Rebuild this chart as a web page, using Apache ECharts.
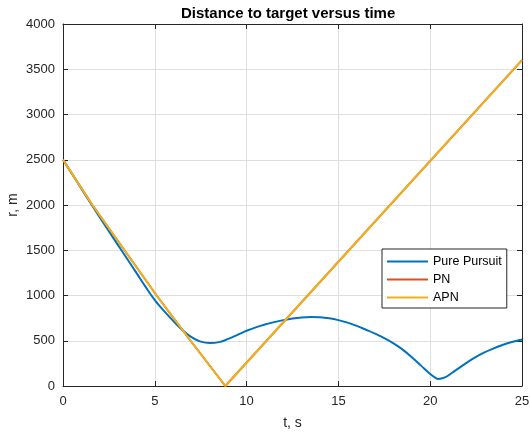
<!DOCTYPE html>
<html>
<head>
<meta charset="utf-8">
<script src="https://cdn.jsdelivr.net/npm/echarts@6/dist/echarts.min.js"></script>
<style>
  html, body { margin: 0; padding: 0; background: #fff; }
  #chart { width: 530px; height: 432px; }
</style>
</head>
<body>
<div id="chart"></div>
<script>
// values
const seriesNames = ["Pure Pursuit", "PN", "APN"];

const ppTime = [0, 0.8, 1.6, 2.4, 3.2, 4.0, 4.5, 5.0, 5.5, 6.0, 6.5, 7.0, 7.5, 8.0, 8.5, 9.0, 9.5, 10, 10.5, 11, 11.5, 12, 12.5, 13, 13.5, 14, 14.5, 15, 15.5, 16, 16.5, 17, 17.5, 18, 18.5, 19, 19.5, 20, 20.25, 20.44, 20.65, 20.9, 21.4, 21.9, 22.4, 22.9, 23.4, 23.9, 24.4, 25];
const ppRange = [2500, 2245, 1990, 1740, 1495, 1250, 1095, 950, 830, 720, 620, 540, 490, 475, 485, 520, 565, 610, 648, 680, 706, 728, 746, 758, 763, 760, 748, 728, 700, 664, 622, 578, 528, 470, 402, 318, 225, 132, 95, 78, 85, 105, 175, 245, 310, 365, 410, 450, 483, 513];

const pnTime = [0, 1.6, 3.35, 5.1, 6.95, 8.84, 25];
const pnRange = [2500, 2000, 1500, 1000, 500, 0, 3600];

const apnTime = [0, 1.6, 3.35, 5.1, 6.95, 8.84, 25];
const apnRange = [2500, 2000, 1500, 1000, 500, 0, 3600];

const colors = ["#0072BD", "#D95319", "#EDB120"];

const pairs = (xs, ys) => xs.map((x, i) => [x, ys[i]]);

const chart = echarts.init(document.getElementById("chart"));

const axisColor = "#262626";
const gridColor = "#dfdfdf";
const font = "Liberation Sans, Arial, sans-serif";
// plain line used as the legend sample
const lineIcon = "path://M0,0 L41,0 L41,2 L0,2 Z";

const option = {
  animation: false,
  title: {
    text: "Distance to target versus time",
    left: 176,
    top: 1,
    textStyle: {
      fontFamily: font,
      fontSize: 15,
      fontWeight: "bold",
      color: "#000",
    },
  },
  legend: {
    data: seriesNames.map((n) => ({ name: n, icon: lineIcon })),
    orient: "vertical",
    left: 382,
    top: 249,
    itemWidth: 41,
    itemHeight: 12,
    itemGap: 5,
    symbolKeepAspect: true,
    padding: [6, 5, 4, 5],
    backgroundColor: "#fff",
    borderColor: axisColor,
    borderWidth: 1,
    borderRadius: 0,
    textStyle: {
      fontFamily: font,
      fontSize: 12.5,
      color: "#000",
    },
  },
  grid: {
    left: 63,
    right: 8,
    top: 24,
    bottom: 46,
    outerBoundsMode: "none",
    containLabel: false,
  },
  xAxis: [
    {
      type: "value",
      min: 0,
      max: 25,
      interval: 5,
      name: "t, s",
      nameLocation: "middle",
      nameGap: 30,
      nameTextStyle: { fontFamily: font, fontSize: 14, color: axisColor },
      axisLine: { show: true, onZero: false, lineStyle: { color: axisColor, width: 1 } },
      axisTick: { show: true, inside: true, length: 5, lineStyle: { color: axisColor } },
      axisLabel: { fontFamily: font, fontSize: 13, color: axisColor, margin: 9 },
      splitLine: { show: true, lineStyle: { color: gridColor, width: 1 } },
    },
    {
      type: "value",
      position: "top",
      min: 0,
      max: 25,
      interval: 5,
      axisLine: { show: true, onZero: false, lineStyle: { color: axisColor, width: 1 } },
      axisTick: { show: true, inside: true, length: 5, lineStyle: { color: axisColor } },
      axisLabel: { show: false },
      splitLine: { show: false },
    },
  ],
  yAxis: [
    {
      type: "value",
      min: 0,
      max: 4000,
      interval: 500,
      name: "r, m",
      nameLocation: "middle",
      nameGap: 43,
      nameMoveOverlap: false,
      nameTextStyle: { fontFamily: font, fontSize: 14, color: axisColor },
      axisLine: { show: true, onZero: false, lineStyle: { color: axisColor, width: 1 } },
      axisTick: { show: true, inside: true, length: 5, lineStyle: { color: axisColor } },
      axisLabel: {
        fontFamily: font,
        fontSize: 13,
        color: axisColor,
        margin: 8,
        formatter: (v) => String(v),
      },
      splitLine: { show: true, lineStyle: { color: gridColor, width: 1 } },
    },
    {
      type: "value",
      position: "right",
      min: 0,
      max: 4000,
      interval: 500,
      axisLine: { show: true, onZero: false, lineStyle: { color: axisColor, width: 1 } },
      axisTick: { show: true, inside: true, length: 5, lineStyle: { color: axisColor } },
      axisLabel: { show: false },
      splitLine: { show: false },
    },
  ],
  series: [
    {
      name: seriesNames[0],
      type: "line",
      data: pairs(ppTime, ppRange),
      smooth: 0.4,
      symbol: "none",
      color: colors[0],
      lineStyle: { width: 2, color: colors[0] },
    },
    {
      name: seriesNames[1],
      type: "line",
      data: pairs(pnTime, pnRange),
      symbol: "none",
      color: colors[1],
      lineStyle: { width: 2, color: colors[1] },
    },
    {
      name: seriesNames[2],
      type: "line",
      data: pairs(apnTime, apnRange),
      symbol: "none",
      color: colors[2],
      lineStyle: { width: 2, color: colors[2] },
    },
  ],
};

chart.setOption(option);

window.addEventListener("resize", () => {
  chart.resize();
});
</script>
</body>
</html>
